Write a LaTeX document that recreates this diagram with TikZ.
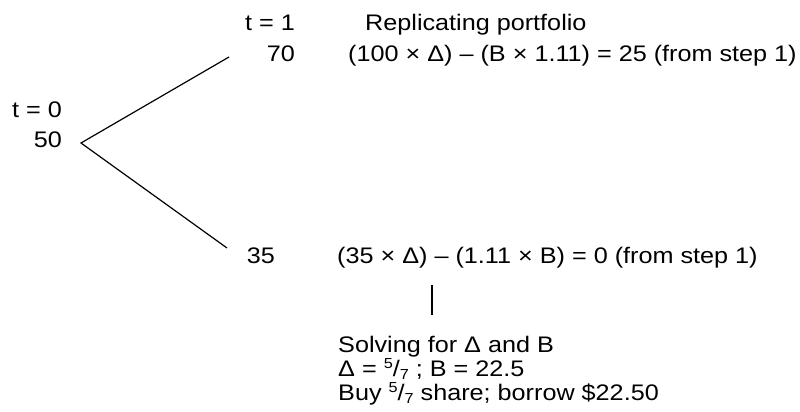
\documentclass[tikz,border=0pt]{standalone}
\usepackage{fontspec}
\setmainfont[FakeStretch=1.12]{Liberation Sans}
\newcommand{\myfrac}[2]{\raisebox{0.34em}{\fontsize{14.5}{14.5}\selectfont #1}/\raisebox{-0.14em}{\fontsize{14.5}{14.5}\selectfont #2}}
\begin{document}
\begin{tikzpicture}[x=1pt,y=-1pt,
  txt/.style={inner sep=0pt, font=\fontsize{22.5}{24}\selectfont},
  lbl/.style={txt, anchor=base west},
  val/.style={txt, anchor=base east},
  conn/.style={line width=1.2pt}]
\useasboundingbox (0,0) rectangle (800,412);
% time labels and values
\node[val] (t1) at (295,31) {t = 1};
\node[val] (v70) at (295,62) {70};
\node[val] (t0) at (62,117) {t = 0};
\node[val] (v50) at (62,147) {50};
\node[val] (v35) at (275,263) {35};
% texts
\node[lbl] (rep) at (365,31) {Replicating portfolio};
\node[lbl] (equp) at (348,62) {(100 × Δ) – (B × 1.11) = 25 (from step 1)};
\node[lbl] (eqdn) at (337,263) {(35 × Δ) – (1.11 × B) = 0 (from step 1)};
\node[lbl, align=left] (sol) at (338,400) {Solving for Δ and B\\
  Δ = \myfrac{5}{7} ; B = 22.5\\
  Buy \myfrac{5}{7} share; borrow \$22.50};
% connector end points
\coordinate (root) at (81,143);
\coordinate (up) at (229,57);
\coordinate (down) at (227,248);
\coordinate (vtop) at (432,285);
\coordinate (vbot) at (432,315);
\draw[conn] (up) -- (root) -- (down);
\draw[conn] (vtop) -- (vbot);
\end{tikzpicture}
\end{document}
